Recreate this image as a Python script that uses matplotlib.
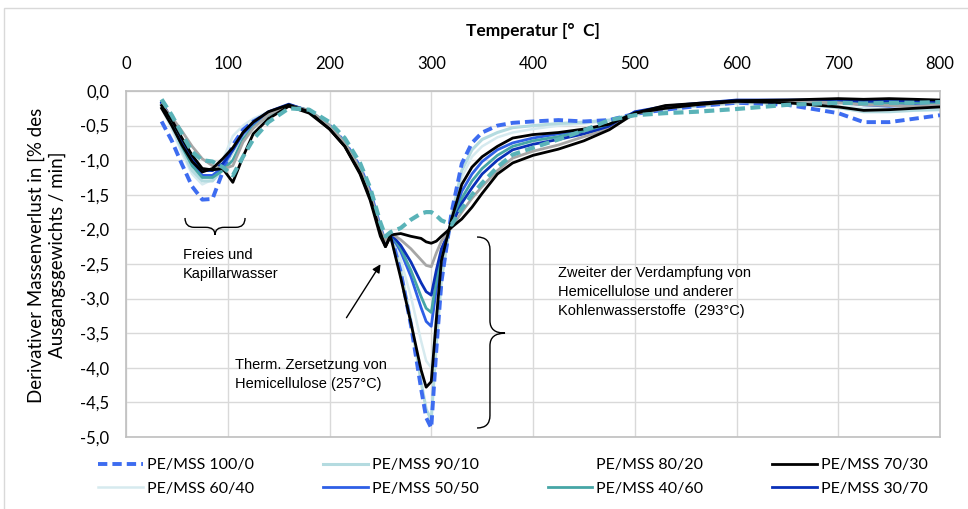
import matplotlib
matplotlib.use("Agg")
import matplotlib.pyplot as plt
from matplotlib.path import Path
from matplotlib.patches import PathPatch, Rectangle
from matplotlib.lines import Line2D
from matplotlib.ticker import FuncFormatter

# Temperatur [°C]
T = [35, 45, 55, 65, 75, 85, 95, 105, 115, 125,
     140, 160, 180, 200, 215, 230, 240, 250, 255, 260,
     270, 280, 290, 295, 300, 305, 310, 320, 330, 340,
     350, 365, 380, 400, 425, 450, 475, 500, 530, 560,
     600, 650, 700, 725, 750, 775, 800]

# derivativer Massenverlust [%/min]
pe_100_0 = [-0.44, -0.72, -1.06, -1.38, -1.57, -1.56, -1.17, -0.78, -0.56, -0.44,
            -0.32, -0.21, -0.29, -0.50, -0.74, -1.10, -1.46, -1.98, -2.20, -2.06,
            -2.62, -3.38, -4.30, -4.72, -4.87, -3.74, -2.76, -1.75, -1.05, -0.75,
            -0.60, -0.50, -0.46, -0.44, -0.42, -0.44, -0.42, -0.33, -0.27, -0.22,
            -0.17, -0.20, -0.32, -0.45, -0.45, -0.40, -0.35]
pe_90_10 = [-0.20, -0.50, -0.85, -1.15, -1.30, -1.30, -1.14, -0.88, -0.64, -0.48,
            -0.32, -0.20, -0.28, -0.49, -0.74, -1.10, -1.47, -2.00, -2.18, -2.05,
            -2.59, -3.32, -4.20, -4.60, -4.75, -3.66, -2.72, -1.80, -1.15, -0.85,
            -0.70, -0.60, -0.53, -0.50, -0.47, -0.45, -0.42, -0.34, -0.27, -0.22,
            -0.17, -0.17, -0.24, -0.30, -0.30, -0.28, -0.27]
pe_80_20 = [-0.20, -0.38, -0.58, -0.80, -0.98, -1.08, -1.13, -1.08, -0.74, -0.54,
            -0.34, -0.21, -0.28, -0.50, -0.75, -1.12, -1.48, -2.00, -2.17, -2.05,
            -2.15, -2.28, -2.44, -2.52, -2.54, -2.34, -2.17, -1.97, -1.75, -1.55,
            -1.38, -1.15, -0.97, -0.87, -0.78, -0.66, -0.55, -0.33, -0.25, -0.20,
            -0.16, -0.15, -0.17, -0.20, -0.21, -0.22, -0.20]
pe_70_30 = [-0.21, -0.42, -0.68, -0.93, -1.12, -1.14, -1.12, -1.32, -0.95, -0.62,
            -0.40, -0.22, -0.32, -0.55, -0.80, -1.20, -1.58, -2.10, -2.25, -2.10,
            -2.70, -3.35, -4.03, -4.28, -4.20, -3.30, -2.45, -1.85, -1.35, -1.10,
            -0.95, -0.80, -0.68, -0.63, -0.60, -0.55, -0.48, -0.32, -0.25, -0.20,
            -0.15, -0.17, -0.23, -0.28, -0.27, -0.25, -0.23]
pe_60_40 = [-0.25, -0.55, -0.90, -1.20, -1.35, -1.28, -1.00, -0.65, -0.50, -0.40,
            -0.30, -0.20, -0.28, -0.49, -0.73, -1.10, -1.46, -1.98, -2.17, -2.05,
            -2.44, -2.97, -3.61, -3.90, -4.00, -3.22, -2.54, -1.85, -1.25, -0.95,
            -0.80, -0.67, -0.60, -0.55, -0.50, -0.47, -0.43, -0.34, -0.27, -0.22,
            -0.18, -0.18, -0.22, -0.25, -0.26, -0.26, -0.25]
pe_50_50 = [-0.18, -0.45, -0.78, -1.05, -1.22, -1.22, -1.10, -0.85, -0.62, -0.48,
            -0.33, -0.20, -0.29, -0.51, -0.76, -1.13, -1.50, -2.02, -2.20, -2.06,
            -2.32, -2.68, -3.13, -3.33, -3.40, -2.86, -2.39, -1.90, -1.45, -1.20,
            -1.02, -0.85, -0.75, -0.68, -0.62, -0.57, -0.50, -0.32, -0.24, -0.19,
            -0.14, -0.14, -0.16, -0.20, -0.22, -0.20, -0.19]
pe_40_60 = [-0.15, -0.45, -0.80, -1.08, -1.25, -1.25, -1.15, -1.00, -0.70, -0.52,
            -0.35, -0.21, -0.28, -0.50, -0.75, -1.12, -1.49, -2.01, -2.19, -2.05,
            -2.28, -2.59, -2.97, -3.14, -3.20, -2.74, -2.34, -1.92, -1.55, -1.30,
            -1.12, -0.93, -0.80, -0.72, -0.66, -0.58, -0.48, -0.31, -0.24, -0.19,
            -0.15, -0.15, -0.17, -0.16, -0.18, -0.17, -0.17]
pe_30_70 = [-0.17, -0.40, -0.70, -0.98, -1.15, -1.15, -1.05, -0.85, -0.60, -0.45,
            -0.30, -0.19, -0.29, -0.52, -0.77, -1.14, -1.52, -2.03, -2.21, -2.06,
            -2.23, -2.47, -2.77, -2.90, -2.95, -2.59, -2.28, -1.94, -1.62, -1.40,
            -1.20, -1.00, -0.85, -0.77, -0.70, -0.62, -0.52, -0.30, -0.22, -0.18,
            -0.13, -0.13, -0.13, -0.15, -0.14, -0.14, -0.15]
# zwei weitere Kurven ohne Legendeneintrag
extra_dashed = [-0.12, -0.35, -0.62, -0.88, -1.00, -1.02, -1.10, -1.22, -0.95, -0.70,
                -0.45, -0.25, -0.27, -0.45, -0.68, -1.04, -1.40, -1.90, -2.10, -2.04,
                -1.98, -1.86, -1.77, -1.75, -1.75, -1.80, -1.87, -1.93, -1.70, -1.50,
                -1.33, -1.10, -0.92, -0.82, -0.70, -0.57, -0.42, -0.35, -0.32, -0.30,
                -0.26, -0.20, -0.17, -0.18, -0.17, -0.17, -0.16]
extra_black = [-0.25, -0.50, -0.78, -1.02, -1.17, -1.12, -0.98, -0.82, -0.60, -0.45,
               -0.30, -0.20, -0.30, -0.55, -0.80, -1.18, -1.55, -2.05, -2.25, -2.08,
               -2.06, -2.10, -2.13, -2.18, -2.20, -2.17, -2.10, -1.97, -1.85, -1.68,
               -1.48, -1.20, -1.04, -0.93, -0.84, -0.72, -0.56, -0.32, -0.21, -0.18,
               -0.14, -0.13, -0.11, -0.12, -0.11, -0.12, -0.13]

x_ticks = [0, 100, 200, 300, 400, 500, 600, 700, 800]
y_ticks = [0.0, -0.5, -1.0, -1.5, -2.0, -2.5, -3.0, -3.5, -4.0, -4.5, -5.0]

plt.rcParams['font.family'] = ['Lato', 'DejaVu Sans']

fig = plt.figure(figsize=(9.68, 5.09), dpi=100)
ax = fig.add_axes([126/968, 1-437/509, 814/968, 346/509])

# Linien (Reihenfolge = Zeichenreihenfolge)
l60, = ax.plot(T, pe_60_40, color='#d6eaef', lw=1.8, label='PE/MSS 60/40', zorder=2)
l90, = ax.plot(T, pe_90_10, color='#b4dbe0', lw=2.2, label='PE/MSS 90/10', zorder=2)
l100, = ax.plot(T, pe_100_0, color='#3d6cf0', lw=2.8, ls=(0, (2.4, 1.3)), label='PE/MSS 100/0', zorder=3)
l50, = ax.plot(T, pe_50_50, color='#2e5fe6', lw=2.0, label='PE/MSS 50/50', zorder=3)
l40, = ax.plot(T, pe_40_60, color='#46a6a6', lw=2.0, label='PE/MSS 40/60', zorder=3)
l30, = ax.plot(T, pe_30_70, color='#0a30b8', lw=2.0, label='PE/MSS 30/70', zorder=3)
l80, = ax.plot(T, pe_80_20, color='#a6a6a6', lw=2.0, label='PE/MSS 80/20', zorder=3)
l70, = ax.plot(T, pe_70_30, color='black', lw=2.0, label='PE/MSS 70/30', zorder=4)
ax.plot(T, extra_black, color='black', lw=2.0, zorder=4)
ax.plot(T, extra_dashed, color='#5ab3b8', lw=3.0, ls=(0, (2.4, 1.3)), zorder=5)

ax.set_xlim(0, 800)
ax.set_ylim(-5, 0)
ax.set_xticks(x_ticks)
ax.set_yticks(y_ticks)
ax.yaxis.set_major_formatter(FuncFormatter(lambda v, p: ('%.1f' % v).replace('.', ',')))
ax.xaxis.tick_top()
ax.xaxis.set_label_position('top')
ax.tick_params(axis='both', length=0, labelsize=12, colors='#404040', labelcolor='black')
ax.tick_params(axis='x', pad=14)
ax.tick_params(axis='y', pad=12)
ax.grid(True, color='#d9d9d9', lw=1)
ax.set_axisbelow(True)
for s in ax.spines.values():
    s.set_color('#bfbfbf')
    s.set_linewidth(1.2)

ax.set_xlabel('Temperatur [°  C]', fontsize=12.5, fontweight='bold', labelpad=14)
fig.text(47/968, 1-255/509, 'Derivativer Massenverlust in [% des\nAusgangsgewichts / min]',
         rotation=90, ha='center', va='center', fontsize=13.5, linespacing=1.25)

# Annotationen
ann_font = ['Liberation Sans', 'DejaVu Sans']
ax.text(56, -2.51, 'Freies und\nKapillarwasser', family=ann_font, fontsize=10.5,
        ha='left', va='center', linespacing=1.45)
ax.text(107, -4.09, 'Therm. Zersetzung von\nHemicellulose (257°C)', family=ann_font,
        fontsize=10.5, ha='left', va='center', linespacing=1.45)
ax.text(424.6, -2.905, 'Zweiter der Verdampfung von\nHemicellulose und anderer\nKohlenwasserstoffe  (293°C)',
        family=ann_font, fontsize=10.5, ha='left', va='center', linespacing=1.45)
ax.annotate('', xy=(251.6, -2.47), xytext=(215.2, -3.31),
            arrowprops=dict(arrowstyle='-|>', color='black', lw=1, mutation_scale=12))

# geschweifte Klammern
def brace_h(ax, xa, xb, xm, y0, y1, y2, rx):
    verts = [(xa, y0), (xa, y1), (xa + rx, y1), (xm - rx, y1), (xm, y1), (xm, y2),
             (xm, y1), (xm + rx, y1), (xb - rx, y1), (xb, y1), (xb, y0)]
    codes = [Path.MOVETO, Path.CURVE3, Path.CURVE3, Path.LINETO, Path.CURVE3, Path.CURVE3,
             Path.CURVE3, Path.CURVE3, Path.LINETO, Path.CURVE3, Path.CURVE3]
    ax.add_patch(PathPatch(Path(verts, codes), fill=False, ec='black', lw=1, zorder=6))

def brace_v(ax, x0, x1, x2, yt, yb, ym, ry):
    verts = [(x0, yt), (x1, yt), (x1, yt - ry), (x1, ym + ry), (x1, ym), (x2, ym),
             (x1, ym), (x1, ym - ry), (x1, yb + ry), (x1, yb), (x0, yb)]
    codes = [Path.MOVETO, Path.CURVE3, Path.CURVE3, Path.LINETO, Path.CURVE3, Path.CURVE3,
             Path.CURVE3, Path.CURVE3, Path.LINETO, Path.CURVE3, Path.CURVE3]
    ax.add_patch(PathPatch(Path(verts, codes), fill=False, ec='black', lw=1, zorder=6))

brace_h(ax, 58, 117, 87.5, -1.835, -1.97, -2.08, 9)
brace_v(ax, 345, 357.7, 372.5, -2.11, -4.87, -3.5, 0.18)

# Legende (spaltenweise befüllt)
h80 = Line2D([], [], color='white', lw=1.6)
handles = [l100, l60, l90, l50, h80, l40, l70, l30]
labels = [h.get_label() for h in [l100, l60, l90, l50, l80, l40, l70, l30]]
fig.legend(handles, labels, ncol=4, loc='center', mode='expand',
           bbox_to_anchor=(98/968, 1-502/509, 830/968, 50/509), frameon=False,
           fontsize=11.5, handlelength=2.8, handletextpad=0.25, labelspacing=0.6,
           borderaxespad=0, borderpad=0)

fig.patches.append(Rectangle((4/968, -0.05), 1.1, (509-8)/509 + 0.05, transform=fig.transFigure,
                             fill=False, ec='#d9d9d9', lw=1))

fig.savefig('out.png', dpi=100)
